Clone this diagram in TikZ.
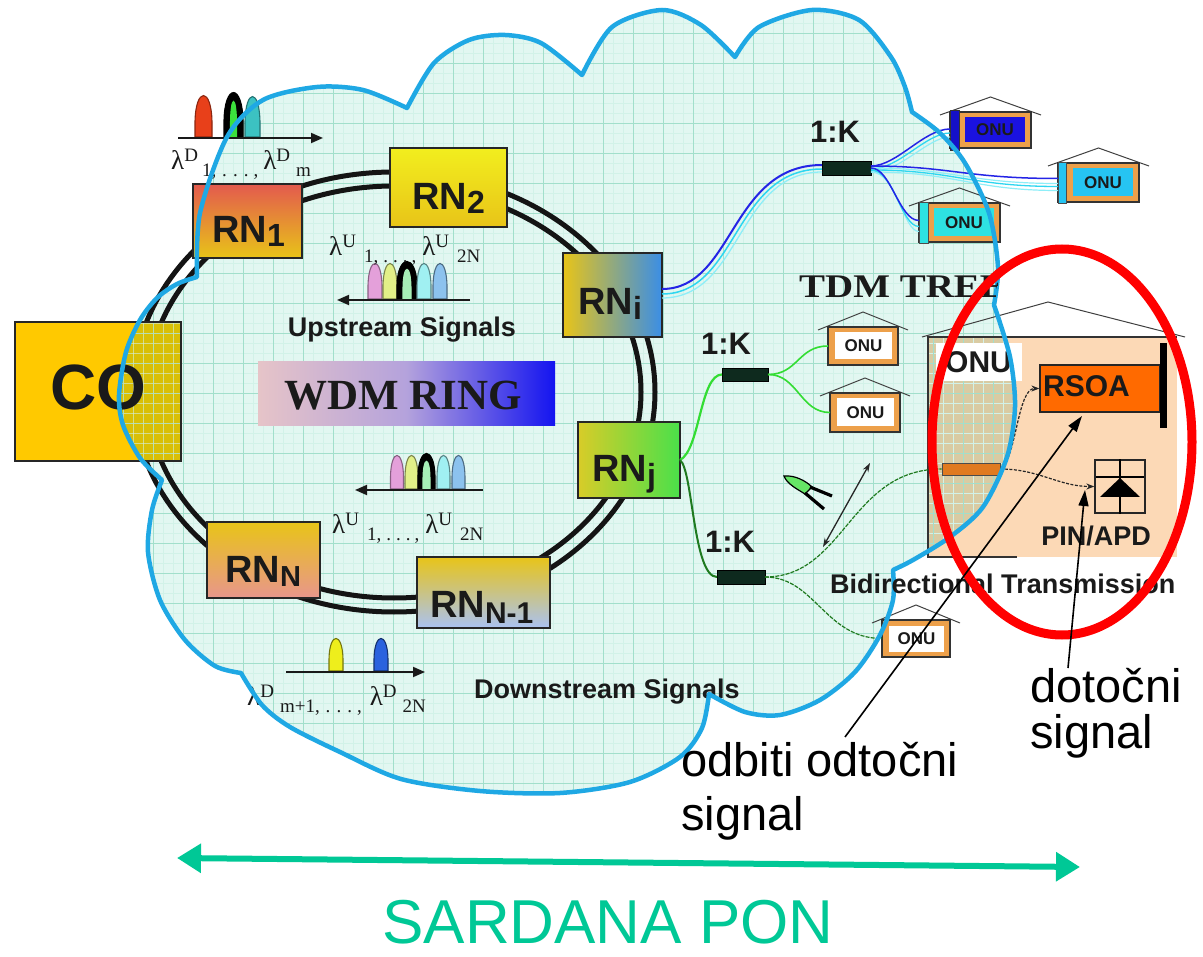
\documentclass[tikz,border=0pt]{standalone}
\usepackage{fontspec}
\setmainfont{Liberation Sans}
\newfontfamily\seriffont{Liberation Serif}
\usetikzlibrary{arrows.meta,calc}

\definecolor{mint}{HTML}{E2F7F1}
\definecolor{gridmaj}{HTML}{A2DFCB}
\definecolor{gridmin}{HTML}{D2F2E8}
\definecolor{cloudblue}{HTML}{1FA8E4}
\definecolor{cogold}{HTML}{FFC900}
\definecolor{codark}{HTML}{D9BF06}
\definecolor{onupeach}{HTML}{FCD9B6}
\definecolor{onutan}{HTML}{D9CBA3}
\definecolor{onuorange}{HTML}{EDA04A}
\definecolor{onublue}{HTML}{1A12E0}
\definecolor{onucyan}{HTML}{26C4F2}
\definecolor{onuaqua}{HTML}{2EE2E2}
\definecolor{barblue}{HTML}{1410C8}
\definecolor{splitgreen}{HTML}{0E2A1E}
\definecolor{fibblue}{HTML}{2424E6}
\definecolor{fibcyan}{HTML}{2ED6F0}
\definecolor{fiblight}{HTML}{8EEEF8}
\definecolor{fibgreen}{HTML}{33DD33}
\definecolor{fibdark}{HTML}{1F7A1F}
\definecolor{rsoaorange}{HTML}{FF6A00}
\definecolor{barorange}{HTML}{E07A20}
\definecolor{sardana}{HTML}{00C896}
\definecolor{txt}{HTML}{1A1A1A}
\definecolor{rnred}{HTML}{E35A4E}
\definecolor{rnyel}{HTML}{E8C418}
\definecolor{rnbright}{HTML}{F2EE1E}
\definecolor{rnblue}{HTML}{3A8EE6}
\definecolor{rnolive}{HTML}{D8CC28}
\definecolor{rngreen}{HTML}{4AE04A}
\definecolor{rnpink}{HTML}{E8968C}
\definecolor{rnlblue}{HTML}{AAC2F2}
\definecolor{wdmL}{HTML}{E6C4C8}
\definecolor{wdmM}{HTML}{B4A2DC}
\definecolor{wdmR}{HTML}{1414F0}
\definecolor{pred}{HTML}{E8401A}
\definecolor{pgrn}{HTML}{3CE03C}
\definecolor{pteal}{HTML}{3CC2C2}
\definecolor{ppink}{HTML}{E4A0DA}
\definecolor{pyel}{HTML}{E2F088}
\definecolor{plgrn}{HTML}{A6EEB6}
\definecolor{pcyan}{HTML}{A0F0F2}
\definecolor{pblue}{HTML}{8CC2EE}
\definecolor{dyel}{HTML}{EEEE1C}
\definecolor{dblue}{HTML}{2A62DE}

% outline of the cloud: one smooth lobe per plot, cusps where they meet
\def\cloudpath{(197,277)
 -- plot[smooth] coordinates {(197,277) (200,213) (227,137) (263,100) (317,87) (363,90) (407,108)}
 -- plot[smooth] coordinates {(407,108) (434,63) (469,40) (505,35) (541,43) (582,75)}
 -- plot[smooth] coordinates {(582,75) (612,27) (662,10) (701,25) (735,57)}
 -- plot[smooth] coordinates {(735,57) (759,27) (812,10) (859,20) (891,57) (905,87) (912,112)}
 -- plot[smooth] coordinates {(912,112) (940,133) (965,163) (989,213) (998,267) (994,305)}
 -- plot[smooth] coordinates {(994,305) (1010,357) (1015,407) (1007,457) (983,507) (950,537) (913,560) (893,570)}
 -- plot[smooth] coordinates {(893,570) (893,600) (880,635) (855,672) (820,700) (780,715) (745,712) (709,694)}
 -- plot[smooth] coordinates {(709,694) (702,728) (680,757) (630,782) (560,793) (480,791) (401,779) (340,752) (290,727) (262,705) (241,673)}
 -- plot[smooth] coordinates {(241,673) (215,666) (185,640) (160,600) (148,552) (152,510) (162,480)}
 -- plot[smooth] coordinates {(162,480) (140,458) (123,425) (119,395) (126,352) (140,320) (157,298) (177,284) (197,277)}
 -- cycle}

% graph paper inside the cloud
\newcommand\cloudgrid{%
 \foreach \gx in {3,13,...,1023} {\draw[gridminor] (\gx,0) -- (\gx,800);}
 \foreach \gy in {3,13,...,803} {\draw[gridminor] (100,\gy) -- (1030,\gy);}
 \foreach \gx in {3,33,...,1023} {\draw[gridmajor] (\gx,0) -- (\gx,800);}
 \foreach \gy in {3,33,...,783} {\draw[gridmajor] (100,\gy) -- (1030,\gy);}
}

% optical pulse (bell shaped): x, base, half width, height, fill, outline
\newcommand\pulse[6]{\filldraw[fill=#5,draw=#6,line width=1.1]
 ({#1-#3},#2) -- ({#1-#3},{#2-0.35*#4}) .. controls ({#1-0.95*#3},{#2-1.2*#4}) and ({#1+0.95*#3},{#2-1.2*#4}) .. ({#1+#3},{#2-0.35*#4}) -- ({#1+#3},#2) -- cycle;}

% raised and lowered indices of the wavelength labels
\newcommand\wlup[1]{\raisebox{8pt}{\fontsize{19}{19}\selectfont #1}}
\newcommand\wldn[1]{\raisebox{-7pt}{\fontsize{19}{19}\selectfont #1}}

% remote node label with lowered index: index, size, drop
\newcommand\rnsub[3]{RN\raisebox{-#3pt}{\fontsize{#2}{#2}\selectfont #1}}

% small ONU house: name, x0, y0, x1, y1, inner colour, left inset
\newcommand\onuhouse[7]{%
 \draw[roof] ({#2-10},{#3+3}) -- ({(#2+#4)/2},{#3-15}) -- ({#4+10},{#3+3});
 \node[onuframe, minimum width={#4-#2}, minimum height={#5-#3}] (#1) at ({(#2+#4)/2},{(#3+#5)/2}) {};
 \node[fill=#6, inner sep=0, minimum width={#4-#2-#7-6}, minimum height={#5-#3-11}] (#1in) at ({(#2+#7+#4-6)/2},{(#3+#5)/2}) {};
 \node[onutext] (#1t) at (#1in) {ONU};}

\begin{document}
\begin{tikzpicture}[x=1pt,y=-1pt,
  gridminor/.style={draw=gridmin, line width=0.4},
  gridmajor/.style={draw=gridmaj, line width=0.9},
  ringline/.style={draw=black!92, line width=5},
  rnbox/.style={draw=black!85, line width=1.5, inner sep=0, outer sep=0},
  rnlabel/.style={font=\fontsize{38}{38}\selectfont\bfseries, text=txt, inner sep=0, anchor=base west},
  sigtext/.style={font=\fontsize{27}{27}\selectfont\bfseries, text=txt, inner sep=0},
  lamtext/.style={font=\seriffont\fontsize{27}{27}\selectfont, text=txt, inner sep=0, anchor=base west},
  ratiotext/.style={font=\fontsize{31}{31}\selectfont\bfseries, text=txt, inner sep=0, anchor=base},
  splitter/.style={fill=splitgreen, draw=black, line width=0.6, inner sep=0, outer sep=0},
  roof/.style={draw=black!75, line width=1},
  onuframe/.style={fill=onuorange, draw=black!80, line width=1.1, inner sep=0, outer sep=0},
  onutext/.style={font=\fontsize{17}{17}\selectfont\bfseries, text=txt, inner sep=0},
  axisarrow/.style={draw=black!90, line width=1.8, -{Triangle[length=12pt,width=10pt]}},
  sigpath/.style={draw=black!85, line width=1.2, dash pattern=on 3pt off 1.5pt, -{Stealth[length=8pt,width=6pt]}},
  pointer/.style={draw=black, line width=1.6, -{Triangle[length=16pt,width=10pt]}},
  caption/.style={font=\fontsize{47}{47}\selectfont, text=black, inner sep=0, anchor=base west},
  ]
\useasboundingbox (0,0) rectangle (1203,957);
\fill[white] (0,0) rectangle (1203,957);

% ---- cloud background
\fill[mint] \cloudpath;

% ---- subscriber house with RSOA (body lies partly inside the cloud)
\node[fill=onupeach, inner sep=0, outer sep=0, minimum width=249, minimum height=220] (bigONU) at (1052.5,447) {};
\begin{scope}
 \clip \cloudpath;
 \fill[onutan] (bigONU.north west) rectangle (bigONU.south east);
\end{scope}
\begin{scope}
 \clip \cloudpath;
 \cloudgrid
\end{scope}
\draw[black!80, line width=1.3] ($(bigONU.south west)+(89,0)$) -- (bigONU.south west) -- (bigONU.north west) -- (bigONU.north east);
\draw[roof] (922,337) -- (1048,302) -- (1185,337);

% ---- WDM ring
\draw[ringline] (394,392) ellipse [x radius=261, y radius=220];
\draw[ringline] (394,392) ellipse [x radius=247, y radius=206];

% ---- central office
\node[fill=cogold, inner sep=0, outer sep=0, minimum width=166, minimum height=139] (CO) at (98,391.5) {};
\begin{scope}
 \clip \cloudpath;
 \fill[codark] (CO.north west) rectangle (CO.south east);
 \clip (CO.north west) rectangle (CO.south east);
 \begin{scope}[opacity=0.6]
  \cloudgrid
 \end{scope}
\end{scope}
\draw[black!85, line width=1.3] (CO.north west) rectangle (CO.south east);
\node[font=\fontsize{64}{64}\selectfont\bfseries, text=txt, anchor=base, inner sep=0] (COt) at (98,410) {CO};

% ---- remote nodes
\node[rnbox, top color=rnred, bottom color=rnyel, minimum width=109, minimum height=74] (RN1) at (247.5,221) {};
\node[rnbox, top color=rnbright, bottom color=rnyel, minimum width=117, minimum height=79] (RN2) at (448.5,187.5) {};
\node[rnbox, left color=rnyel, right color=rnblue, minimum width=99, minimum height=84] (RNi) at (612.5,295) {};
\node[rnbox, left color=rnolive, right color=rngreen, minimum width=102, minimum height=76] (RNj) at (629,460) {};
\node[rnbox, top color=rnyel, bottom color=rnpink, minimum width=113, minimum height=76] (RNN) at (263.5,560) {};
\node[rnbox, top color=rnyel, bottom color=rnlblue, minimum width=133, minimum height=71] (RNM) at (483.5,592.5) {};
\node[rnlabel] (RN1t) at (212,243) {\rnsub{1}{32}{4}};
\node[rnlabel] (RN2t) at (412,210) {\rnsub{2}{32}{4}};
\node[rnlabel] (RNit) at (578,315) {\rnsub{i}{32}{5}};
\node[rnlabel] (RNjt) at (592,482) {\rnsub{j}{32}{5}};
\node[rnlabel] (RNNt) at (225,583) {\rnsub{N}{29}{3}};
\node[rnlabel] (RNMt) at (430,617) {\rnsub{N-1}{30}{6}};

% ---- ring title
\node[inner sep=0, minimum width=297, minimum height=64, left color=wdmL, right color=wdmR, middle color=wdmM] (wdm) at (406.5,394) {};
\node[font=\seriffont\bfseries\fontsize{43}{43}\selectfont, text=txt, anchor=base, inner sep=0] (wdmt) at (403,410) {WDM RING};

% ---- downstream channels at RN1
\pulse{203.5}{137}{8.5}{42}{pred}{pred!60!black}
\pulse{233.5}{137}{9.5}{45}{black}{black}
\pulse{233.5}{137}{3}{36}{pgrn}{pgrn}
\pulse{252.5}{137}{7.5}{41}{pteal}{pteal!60!black}
\coordinate (axD0) at (178,138);
\coordinate (axD1) at (323,138);
\draw[axisarrow] (axD0) -- (axD1);
\node[lamtext] (lamD1) at (171,170) {λ\wlup{D}\hspace{4pt}\wldn{1,\hspace{6pt}.\hspace{6pt}.\hspace{6pt}.\hspace{5pt},}\hspace{5pt}λ\wlup{D}\hspace{6pt}\wldn{m}};

% ---- upstream channels (upper)
\pulse{375}{299}{7}{36}{ppink}{ppink!60!black}
\pulse{390}{299}{7}{36}{pyel}{pyel!55!black}
\pulse{407}{299}{10}{38}{black}{black}
\pulse{407}{299}{4}{30}{plgrn}{plgrn}
\pulse{424}{299}{7}{36}{pcyan}{pcyan!55!black}
\pulse{440}{299}{7}{36}{pblue}{pblue!55!black}
\coordinate (axU0) at (470,300);
\coordinate (axU1) at (337,300);
\draw[axisarrow] (axU0) -- (axU1);
\node[lamtext] (lamU1) at (329,256) {λ\wlup{U}\hspace{8pt}\wldn{1,\hspace{5pt}.\hspace{5pt}.\hspace{5pt}.\hspace{4pt},}\hspace{6pt}λ\wlup{U}\hspace{8pt}\wldn{2N}};
\node[sigtext, anchor=base] (upsig) at (402,337) {Upstream Signals};

% ---- upstream channels (lower)
\pulse{397}{489}{6.5}{34}{ppink}{ppink!60!black}
\pulse{411.5}{489}{6.5}{34}{pyel}{pyel!55!black}
\pulse{426.5}{489}{8.5}{36}{black}{black}
\pulse{426.5}{489}{3.5}{28}{plgrn}{plgrn}
\pulse{443.5}{489}{6.5}{34}{pcyan}{pcyan!55!black}
\pulse{458.5}{489}{6.5}{34}{pblue}{pblue!55!black}
\coordinate (axL0) at (483,490);
\coordinate (axL1) at (355,490);
\draw[axisarrow] (axL0) -- (axL1);
\node[lamtext] (lamU2) at (332,533) {λ\wlup{U}\hspace{8pt}\wldn{1,\hspace{5pt}.\hspace{5pt}.\hspace{5pt}.\hspace{4pt},}\hspace{6pt}λ\wlup{U}\hspace{8pt}\wldn{2N}};

% ---- downstream channels (lower)
\pulse{336}{671}{7}{33}{dyel}{dyel!50!black}
\pulse{381}{671}{7}{33}{dblue}{dblue!50!black}
\coordinate (axB0) at (286,672);
\coordinate (axB1) at (425,672);
\draw[axisarrow] (axB0) -- (axB1);
\node[lamtext] (lamD2) at (247,705) {λ\wlup{D}\hspace{6pt}\wldn{m+1,\hspace{6pt}.\hspace{6pt}.\hspace{6pt}.\hspace{5pt},}\hspace{8pt}λ\wlup{D}\hspace{6pt}\wldn{2N}};
\node[sigtext, anchor=base west] (dnsig) at (474,698) {Downstream Signals};

% ---- splitters
\node[splitter, minimum width=49, minimum height=14] (spl1) at (846.5,168) {};
\node[splitter, minimum width=46, minimum height=13] (spl2) at (745,374.5) {};
\node[splitter, minimum width=48, minimum height=14] (spl3) at (741,577) {};
\node[ratiotext] (r1) at (835,143) {1:K};
\node[ratiotext] (r2) at (726,355) {1:K};
\node[ratiotext] (r3) at (730,552) {1:K};

% ---- ONU houses
\onuhouse{onuA}{950}{112}{1031}{148}{onublue}{15}
\node[fill=barblue, draw=black!80, line width=0.8, inner sep=0, minimum width=9, minimum height=40] (onuAbar) at (955,130) {};
\onuhouse{onuB}{1058}{163}{1139}{202}{onucyan}{15}
\node[fill=onucyan, draw=black!70, line width=0.8, inner sep=0, minimum width=8, minimum height=41] (onuBbar) at (1062,182.5) {};
\onuhouse{onuC}{919}{203}{1000}{242}{onuaqua}{15}
\node[fill=onuaqua, draw=black!70, line width=0.8, inner sep=0, minimum width=9, minimum height=41] (onuCbar) at (923.5,222.5) {};
\onuhouse{onuD}{828}{327}{898}{365}{white}{7}
\onuhouse{onuE}{830}{393}{900}{432}{white}{7}
\onuhouse{onuF}{882}{620}{950}{657}{white}{7}

% ---- fibre bundle of RNi
\draw[fiblight, line width=1.3] ($(RNi.east)+(0,3)$) .. controls +(80,0) and +(-86,0) .. ($(spl1.west)+(0,4)$);
\draw[fibcyan, line width=1.5] ($(RNi.east)+(0,-1)$) .. controls +(76,0) and +(-89,0) .. ($(spl1.west)+(0,1)$);
\draw[fibblue, line width=2] ($(RNi.east)+(0,-6)$) .. controls +(72,0) and +(-92,0) .. ($(spl1.west)+(0,-3)$);
\draw[fiblight, line width=1.2] ($(spl1.east)+(0,4)$) .. controls +(30,0) and +(-22,0) .. ($(onuA.west)+(0,7)$);
\draw[fibcyan, line width=1.3] ($(spl1.east)+(0,1)$) .. controls +(28,0) and +(-24,0) .. ($(onuA.west)+(0,3)$);
\draw[fibblue, line width=1.5] ($(spl1.east)+(0,-2)$) .. controls +(26,0) and +(-26,0) .. ($(onuA.west)+(0,-1)$);
\draw[fiblight, line width=1.2] ($(spl1.east)+(0,4)$) .. controls +(85,0) and +(-85,0) .. ($(onuB.west)+(0,8)$);
\draw[fibcyan, line width=1.3] ($(spl1.east)+(0,2)$) .. controls +(82,0) and +(-88,0) .. ($(onuB.west)+(0,4)$);
\draw[fiblight, line width=1.2] ($(spl1.east)+(0,0)$) .. controls +(80,0) and +(-90,0) .. ($(onuB.west)+(0,1)$);
\draw[fibblue, line width=1.5] ($(spl1.east)+(0,-2)$) .. controls +(78,0) and +(-92,0) .. ($(onuB.west)+(0,-4)$);
\draw[fiblight, line width=1.2] ($(spl1.east)+(0,4)$) .. controls +(26,0) and +(-16,0) .. ($(onuC.west)+(0,9)$);
\draw[fibcyan, line width=1.3] ($(spl1.east)+(0,2)$) .. controls +(23,0) and +(-18,0) .. ($(onuC.west)+(0,4)$);
\draw[fibblue, line width=1.5] ($(spl1.east)+(0,0)$) .. controls +(20,0) and +(-20,0) .. ($(onuC.west)+(0,-2)$);

% ---- fibres of RNj
\draw[fibgreen, line width=2.2] (RNj.east) .. controls +(20,-10) and +(-22,0) .. (spl2.west);
\draw[fibgreen, line width=1.6] (spl2.east) .. controls +(30,0) and +(-30,0) .. (onuD.west);
\draw[fibgreen, line width=1.6] (spl2.east) .. controls +(30,0) and +(-30,0) .. (onuE.west);
\draw[fibdark, line width=2] (RNj.east) .. controls +(13,10) and +(-24,0) .. (spl3.west);

% ---- inside the RSOA subscriber
\node[fill=white, inner sep=0, minimum width=86, minimum height=38] (bigONUlab) at (979,362) {};
\node[font=\fontsize{30}{30}\selectfont\bfseries, text=txt, anchor=west, inner sep=0] (bigONUt) at (945,362) {ONU};
\node[fill=barorange, draw=black!70, line width=0.8, inner sep=0, minimum width=58, minimum height=12] (bar) at (971,469) {};
\node[fill=rsoaorange, draw=black!85, line width=1.2, inner sep=0, minimum width=120, minimum height=47] (RSOA) at (1100,388.5) {};
\node[font=\fontsize{30}{30}\selectfont\bfseries, text=txt, anchor=base west, inner sep=0] (RSOAt) at (1043,397) {RSOA};
\node[fill=black, inner sep=0, minimum width=7, minimum height=85] (mirror) at (1163.5,385.5) {};
\node[draw=black!85, line width=1.3, inner sep=0, minimum width=50, minimum height=53] (PIN) at (1120,486.5) {};
\draw[black, line width=1.2] (PIN.north) -- (PIN.south);
\draw[black, line width=1.2] ($(PIN.west)+(2,-9.5)$) -- ($(PIN.east)+(-2,-9.5)$);
\fill[black] (1100,497) -- (1140,497) -- (1120,478) -- cycle;
\node[font=\fontsize{27}{27}\selectfont\bfseries, text=txt, anchor=base, inner sep=0] (PINt) at (1096,545) {PIN/APD};
\draw[sigpath] (bar.east) .. controls +(16,-10) and +(-22,0) .. (RSOA.west);
\draw[sigpath] (bar.east) .. controls +(38,0) and +(-35,0) .. (PIN.west);

% ---- drop fibres of the lower splitter
\draw[fibdark, line width=1.2, dash pattern=on 4pt off 1.2pt] (spl3.east) .. controls +(80,0) and +(-92,0) .. (bar.west);
\draw[fibdark, line width=1.2, dash pattern=on 4pt off 1.2pt] (spl3.east) .. controls +(50,0) and +(-57,0) .. (onuF.west);

% ---- bidirectional link mark
\filldraw[fill=fibgreen!75!white, draw=black, line width=1.2] (784,476) .. controls (795,475) and (806,481) .. (812,487) -- (805,494) .. controls (797,489) and (787,484) .. (784,476) -- cycle;
\draw[black, line width=3.2] (810,487) -- (832,496);
\draw[black, line width=3.2] (805,493) -- (824,509);
\coordinate (bdA) at (870,463);
\coordinate (bdB) at (823,547);
\draw[black!85, line width=1.3, {Stealth[length=9pt,width=6pt]}-{Stealth[length=9pt,width=6pt]}] (bdA) -- (bdB);

% ---- cloud outline
\draw[cloudblue, line width=4.5, line join=round] \cloudpath;

\begin{scope}
 \clip \cloudpath;
 \node[font=\seriffont\bfseries\fontsize{33}{33}\selectfont, text=txt, anchor=base west, inner sep=0] (tdm) at (799,298) {\scalebox{1.18}[1]{TDM TREE}};
\end{scope}
\node[sigtext, anchor=base west] (bidir) at (830,593) {Bidirectional Transmission};

% ---- highlighted subscriber
\draw[red, line width=9] (1062,442) ellipse [x radius=130, y radius=193];

% ---- annotations
\node[caption] (dotA) at (1030,702) {dotočni};
\node[caption] (dotB) at (1030,748) {signal};
\node[caption] (odbA) at (681,776) {odbiti odtočni};
\node[caption] (odbB) at (681,830) {signal};
\coordinate (odbFrom) at (845,737);
\coordinate (odbTo) at (1082,416);
\coordinate (dotFrom) at (1068,668);
\coordinate (dotTo) at (1085,490);
\draw[pointer] (odbFrom) -- (odbTo);
\draw[pointer] (dotFrom) -- (dotTo);

% ---- network span
\coordinate (spanL) at (177,858);
\coordinate (spanR) at (1080,867);
\draw[sardana, line width=6, {Triangle[length=24pt,width=28pt]}-{Triangle[length=24pt,width=28pt]}] (spanL) -- (spanR);
\node[font=\fontsize{62}{62}\selectfont, text=sardana, anchor=base, inner sep=0] (pon) at (608,943) {SARDANA PON};
\end{tikzpicture}
\end{document}
